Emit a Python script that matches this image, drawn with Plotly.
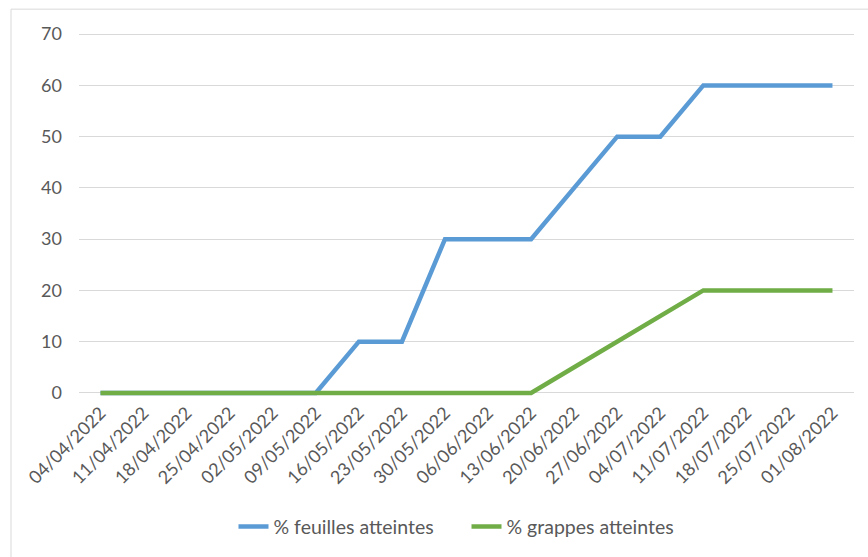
import plotly.graph_objects as go

# Weekly observation dates
dates = ["04/04/2022", "11/04/2022", "18/04/2022", "25/04/2022", "02/05/2022",
         "09/05/2022", "16/05/2022", "23/05/2022", "30/05/2022", "06/06/2022",
         "13/06/2022", "20/06/2022", "27/06/2022", "04/07/2022", "11/07/2022",
         "18/07/2022", "25/07/2022", "01/08/2022"]

# Share of affected leaves (%)
feuilles = [0, 0, 0, 0, 0, 0, 10, 10, 30, 30, 30, 40, 50, 50, 60, 60, 60, 60]
# Share of affected bunches (%)
grappes = [0, 0, 0, 0, 0, 0, 0, 0, 0, 0, 0, 5, 10, 15, 20, 20, 20, 20]

y_ticks = [0, 10, 20, 30, 40, 50, 60, 70]

FONT = "Lato"
TEXT = "#595959"
GRID = "#d9d9d9"
FS = 18

fig = go.Figure()
fig.add_trace(go.Scatter(
    x=dates, y=feuilles, mode="lines", name="% feuilles atteintes",
    line=dict(color="#5b9bd5", width=4.5),
))
fig.add_trace(go.Scatter(
    x=dates, y=grappes, mode="lines", name="% grappes atteintes",
    line=dict(color="#70ad47", width=4.5),
))

W, H = 868, 557
ml, mr, mt, mb = 79, 14, 28.9, 157.9
pw, ph = W - ml - mr, H - mt - mb

fig.update_layout(
    width=W, height=H,
    margin=dict(l=ml, r=mr, t=mt, b=mb, pad=0),
    paper_bgcolor="white", plot_bgcolor="white",
    font=dict(family=FONT, size=FS, color=TEXT),
    showlegend=True,
    legend=dict(
        orientation="h", x=0.5, xanchor="center",
        y=-(527 - (H - mb)) / ph, yanchor="middle",
        entrywidth=188, entrywidthmode="pixels",
        font=dict(family=FONT, size=19.5, color=TEXT),
        bgcolor="rgba(0,0,0,0)",
    ),
    xaxis=dict(
        type="category", range=[-0.5, len(dates) - 0.5], tickangle=-45,
        showgrid=False, zeroline=False, showline=False, ticks="",
        tickfont=dict(family=FONT, size=FS, color=TEXT),
    ),
    yaxis=dict(
        range=[-1, 71], tickvals=y_ticks, showgrid=True, gridcolor=GRID,
        gridwidth=1, zeroline=False, showline=False, ticks="",
        ticklabelstandoff=16,
        tickfont=dict(family=FONT, size=FS, color=TEXT),
    ),
    shapes=[dict(
        type="rect", xref="paper", yref="paper",
        x0=(11 - ml) / pw, x1=(W + 20 - ml) / pw,
        y0=-(H + 20 - (H - mb)) / ph, y1=1 + (mt - 9) / ph,
        line=dict(color=GRID, width=1), layer="below",
    )],
)

fig.write_html("out.html")
